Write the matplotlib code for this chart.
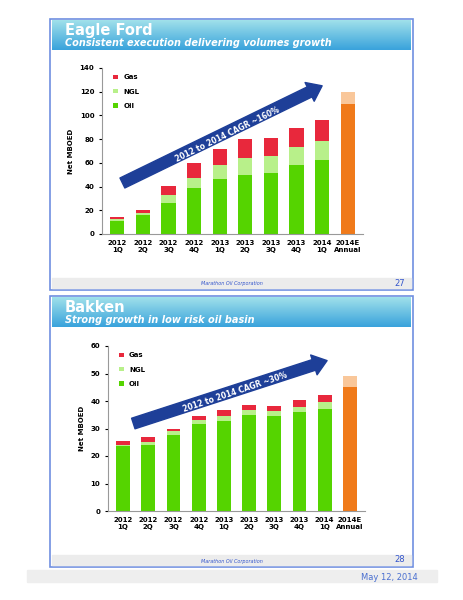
import matplotlib.pyplot as plt
import numpy as np
from matplotlib.patches import Rectangle

quarters = ['2012\n1Q', '2012\n2Q', '2012\n3Q', '2012\n4Q', '2013\n1Q', '2013\n2Q',
            '2013\n3Q', '2013\n4Q', '2014\n1Q', '2014E\nAnnual']

# Eagle Ford (MBOED), last entry = 2014E annual (base, upper range)
ef_oil = [11, 16, 26, 38.5, 46, 50, 51.5, 58, 62]
ef_ngl = [1.5, 2, 7, 9, 12, 14, 14.5, 15, 16.5]
ef_gas = [2, 2.5, 7.5, 12, 14, 16, 15, 16, 17.5]
ef_est = [110, 10]

# Bakken (MBOED)
bk_oil = [23.5, 24, 27.5, 31.5, 32.8, 35, 34.7, 36, 37.2]
bk_ngl = [0.5, 1.2, 1.5, 1.7, 1.7, 1.8, 1.8, 2, 2.3]
bk_gas = [1.5, 1.6, 1, 1.5, 2.3, 1.9, 1.8, 2.2, 2.8]
bk_est = [45, 4]

W, H = 464, 600
fig = plt.figure(figsize=(4.64, 6), dpi=100)
fig.patch.set_facecolor('white')
bg = fig.add_axes([0, 0, 1, 1]); bg.set_xlim(0, W); bg.set_ylim(H, 0); bg.axis('off')

def panel(y0, y1, title, sub, num):
    bg.add_patch(Rectangle((50, y0), 363, y1 - y0, fill=False, ec='#6f8fe0', lw=1.2))
    grad = np.linspace(0, 1, 30).reshape(-1, 1)
    bg.imshow(grad, extent=(52, 411, y0 + 31, y0 + 1), cmap=plt.matplotlib.colors.LinearSegmentedColormap.from_list('t', ['#9fe0ea', '#3aa3dc']), aspect='auto', zorder=1)
    bg.text(65, y0 + 11, title, color='white', fontsize=10.5, fontweight='bold', va='center')
    bg.text(65, y0 + 24, sub, color='white', fontsize=7, fontweight='bold', style='italic', va='center')
    bg.add_patch(Rectangle((52, y1 - 12), 359, 10, color='#ececec', zorder=1))
    bg.text(232, y1 - 6, 'Marathon Oil Corporation', color='#3355cc', fontsize=3.5, style='italic', ha='center', va='center')
    bg.text(400, y1 - 7, num, color='#3355cc', fontsize=6, ha='center', va='center')

panel(19, 290, 'Eagle Ford', 'Consistent execution delivering volumes growth', '27')
panel(296, 567, 'Bakken', 'Strong growth in low risk oil basin', '28')
bg.add_patch(Rectangle((27, 570), 410, 12, color='#eeeeee'))
bg.text(418, 578, 'May 12, 2014', color='#4a6fd0', fontsize=6, ha='right', va='center')
bg.set_xlim(0, W); bg.set_ylim(H, 0)

def chart(rect, oil, ngl, gas, est, ymax, step, arrow, label, angle):
    ax = fig.add_axes(rect)
    x = np.arange(len(quarters))
    n = len(oil)
    ax.bar(x[:n], oil, 0.55, color='#55d400', label='Oil')
    ax.bar(x[:n], ngl, 0.55, bottom=oil, color='#b8f08a', label='NGL')
    ax.bar(x[:n], gas, 0.55, bottom=np.add(oil, ngl), color='#e8283c', label='Gas')
    ax.bar(x[n], est[0], 0.55, color='#f07a1a')
    ax.bar(x[n], est[1], 0.55, bottom=est[0], color='#f9c79a')
    ax.set_xlim(-0.6, len(quarters) - 0.4)
    ax.set_ylim(0, ymax)
    ax.set_yticks(np.arange(0, ymax + 1, step))
    ax.set_xticks(x)
    ax.set_xticklabels(quarters, fontsize=5, fontweight='bold')
    ax.tick_params(axis='y', labelsize=5, length=2)
    ax.tick_params(axis='x', length=0, pad=4)
    for lab in ax.get_yticklabels():
        lab.set_fontweight('bold')
    ax.set_ylabel('Net MBOED', fontsize=5, fontweight='bold')
    for s in ['top', 'right']:
        ax.spines[s].set_visible(False)
    ax.spines['left'].set_color('#999999'); ax.spines['bottom'].set_color('#999999')
    h, l = ax.get_legend_handles_labels()
    ax.legend(h[::-1], l[::-1], loc='upper left', bbox_to_anchor=(0.02, 1.0), frameon=False,
              fontsize=5, handlelength=0.6, handleheight=0.6, labelspacing=1.2,
              prop={'size': 5, 'weight': 'bold'})
    (xa, ya), (xb, yb) = arrow
    ax.annotate('', xy=(xb, yb), xytext=(xa, ya),
                arrowprops=dict(arrowstyle='simple,head_width=1.5,head_length=1.0,tail_width=0.8',
                                fc='#1e3f98', ec='#1e3f98'))
    ax.text((xa + xb) / 2 + 0.2, (ya + yb) / 2, label, rotation=angle, color='white',
            fontsize=5.5, fontweight='bold', ha='center', va='center', rotation_mode='anchor')
    return ax

chart([102 / W, 1 - 234 / H, 261 / W, 166 / H], ef_oil, ef_ngl, ef_gas, ef_est, 140, 20,
      ((0.1, 42), (8.1, 126)), '2012 to 2014 CAGR ~160%', 26)
chart([108 / W, 1 - 511 / H, 257 / W, 165 / H], bk_oil, bk_ngl, bk_gas, bk_est, 60, 10,
      ((0.3, 31.5), (8.2, 55)), '2012 to 2014 CAGR ~30%', 18.5)

fig.savefig('out.png', dpi=100)
